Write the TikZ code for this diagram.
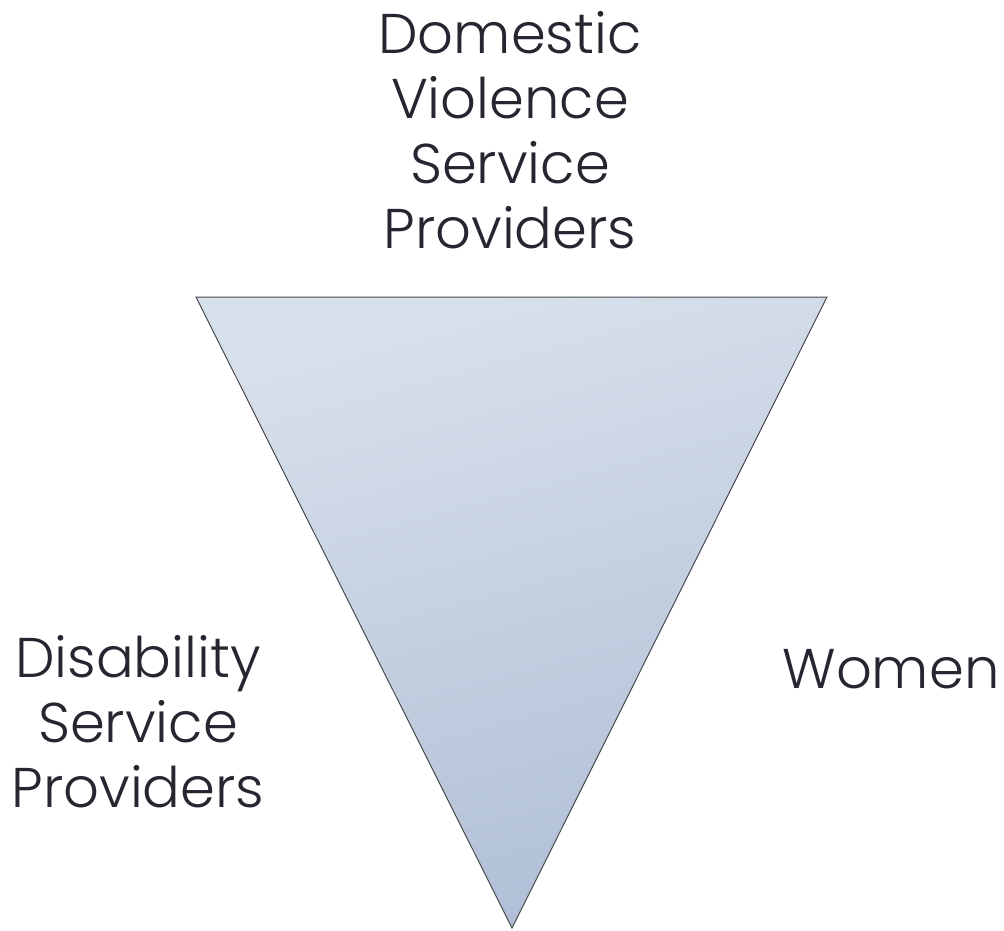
\documentclass[tikz,border=0pt]{standalone}
\usepackage{fontspec}
\setmainfont{Poppins}[UprightFont=* Light]
\definecolor{txt}{HTML}{262631}
\definecolor{triTop}{HTML}{D8E0EB}
\definecolor{triBot}{HTML}{B0BFD6}
\definecolor{edge}{HTML}{4A4A50}
\begin{document}
\begin{tikzpicture}[x=1pt,y=-1pt,
  lbl/.style={text=txt, align=center, inner sep=0pt, font=\fontsize{56}{65}\selectfont}]
\useasboundingbox (0,0) rectangle (1004,930);
\coordinate (tl) at (196,297);
\coordinate (tr) at (827,297);
\coordinate (bt) at (512,928);
\shade[top color=triTop, bottom color=triBot, shading angle=15] (tl) -- (tr) -- (bt) -- cycle;
\draw[edge, line width=1pt, line join=miter] (tl) -- (tr) -- (bt) -- cycle;
\node[lbl] (dv) at (510,130) {Domestic\\Violence\\Service\\Providers};
\node[lbl] (ds) at (138,722) {Disability\\Service\\Providers};
\node[lbl] (w) at (891,669) {Women};
\end{tikzpicture}
\end{document}
